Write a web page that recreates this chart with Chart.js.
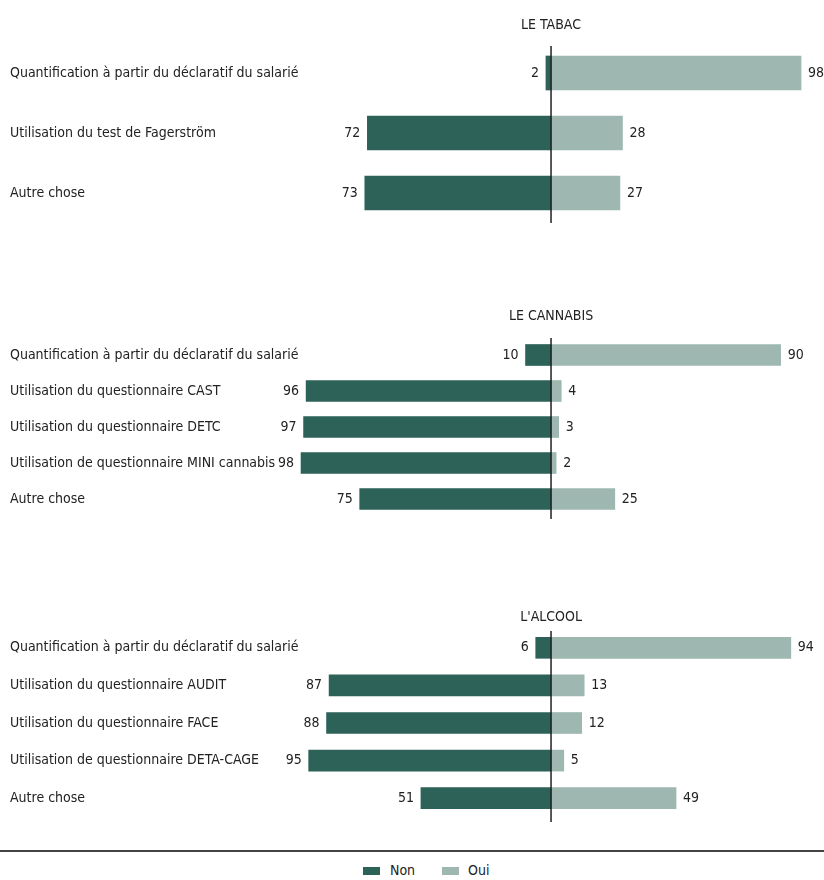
<!DOCTYPE html>
<html>
<head>
<meta charset="utf-8">
<script src="https://cdn.jsdelivr.net/npm/chart.js@4"></script>
<style>
  body { margin: 0; background: #fff; width: 824px; height: 880px; position: relative; overflow: hidden; }
  .box { position: absolute; left: 0; width: 824px; }
  #sep { position: absolute; left: 0; top: 850px; width: 824px; height: 0; border-top: 2px solid #444; }
  #legend { position: absolute; top: 862px; left: 0; width: 824px; font: 14px 'Liberation Sans Narrow', 'DejaVu Sans Condensed', sans-serif; color: #222; }
  #legend span.sw { position: absolute; top: 5px; width: 17px; height: 8px; }
  #legend span.tx { position: absolute; top: 0; }
</style>
</head>
<body>
<div class="box" style="top:0;height:240px"><canvas id="c1"></canvas></div>
<div class="box" style="top:290px;height:250px"><canvas id="c2"></canvas></div>
<div class="box" style="top:590px;height:240px"><canvas id="c3"></canvas></div>
<div id="sep"></div>
<div id="legend">
  <span class="sw" style="left:363px;background:#2d6259"></span><span class="tx" style="left:390px">Non</span>
  <span class="sw" style="left:442px;background:#9eb8b1"></span><span class="tx" style="left:468px">Oui</span>
</div>
<script>
const tabacLabels = ['Quantification à partir du déclaratif du salarié', 'Utilisation du test de Fagerström', 'Autre chose'];
const tabacNon = [2, 72, 73];
const tabacOui = [98, 28, 27];

const cannabisLabels = ['Quantification à partir du déclaratif du salarié', 'Utilisation du questionnaire CAST', 'Utilisation du questionnaire DETC', 'Utilisation de questionnaire MINI cannabis', 'Autre chose'];
const cannabisNon = [10, 96, 97, 98, 75];
const cannabisOui = [90, 4, 3, 2, 25];

const alcoolLabels = ['Quantification à partir du déclaratif du salarié', 'Utilisation du questionnaire AUDIT', 'Utilisation du questionnaire FACE', 'Utilisation de questionnaire DETA-CAGE', 'Autre chose'];
const alcoolNon = [6, 87, 88, 95, 51];
const alcoolOui = [94, 13, 12, 5, 49];

const FONT = "14px 'Liberation Sans Narrow', 'DejaVu Sans Condensed', sans-serif";
const darkGreen = '#2d6259';
const lightGreen = '#9eb8b1';

// texts, values and centre line, drawn from the scales
const textPlugin = {
  id: 'texts',
  afterDatasetsDraw(chart, args, opts) {
    const ctx = chart.ctx;
    const x = chart.scales.x, y = chart.scales.y;
    const x0 = x.getPixelForValue(0);
    ctx.save();
    ctx.font = FONT;
    ctx.fillStyle = '#222';
    ctx.textBaseline = 'middle';
    // title
    ctx.textAlign = 'center';
    ctx.fillText(opts.title, x0, opts.titleY);
    // category labels
    ctx.textAlign = 'left';
    chart.data.labels.forEach((l, i) => {
      ctx.fillText(l, 10, y.getPixelForValue(i));
    });
    // values
    const non = chart.getDatasetMeta(0).data;
    const oui = chart.getDatasetMeta(1).data;
    non.forEach((bar, i) => {
      ctx.textAlign = 'right';
      ctx.fillText(String(-chart.data.datasets[0].data[i]), bar.x - 7, bar.y);
    });
    oui.forEach((bar, i) => {
      ctx.textAlign = 'left';
      ctx.fillText(String(chart.data.datasets[1].data[i]), bar.x + 7, bar.y);
    });
    // centre line
    ctx.strokeStyle = '#222';
    ctx.lineWidth = 1.5;
    ctx.beginPath();
    ctx.moveTo(x0, chart.chartArea.top + opts.lineTop);
    ctx.lineTo(x0, chart.chartArea.bottom + opts.lineBottom);
    ctx.stroke();
    ctx.restore();
  }
};

function makeChart(id, labels, non, oui, title, titleY, pad, thick, lineTop, lineBottom) {
  new Chart(document.getElementById(id), {
    type: 'bar',
    data: {
      labels: labels,
      datasets: [
        { label: 'Non', data: non.map(v => -v), backgroundColor: darkGreen, barThickness: thick },
        { label: 'Oui', data: oui, backgroundColor: lightGreen, barThickness: thick }
      ]
    },
    options: {
      indexAxis: 'y',
      responsive: true,
      maintainAspectRatio: false,
      animation: false,
      layout: { padding: { top: pad[0], bottom: pad[1], left: 0, right: 0 } },
      scales: {
        x: { stacked: true, min: -216, max: 107, display: false },
        y: { stacked: true, display: false }
      },
      plugins: {
        legend: { display: false },
        tooltip: { enabled: false },
        texts: { title: title, titleY: titleY, lineTop: lineTop, lineBottom: lineBottom }
      }
    },
    plugins: [textPlugin]
  });
}

makeChart('c1', tabacLabels, tabacNon, tabacOui, 'LE TABAC', 25, [43, 17], 34, 3, 0);
makeChart('c2', cannabisLabels, cannabisNon, cannabisOui, 'LE CANNABIS', 26, [47, 23], 21, 1, 2);
makeChart('c3', alcoolLabels, alcoolNon, alcoolOui, "L'ALCOOL", 27, [39, 13], 21, 2, 5);
</script>
</body>
</html>
